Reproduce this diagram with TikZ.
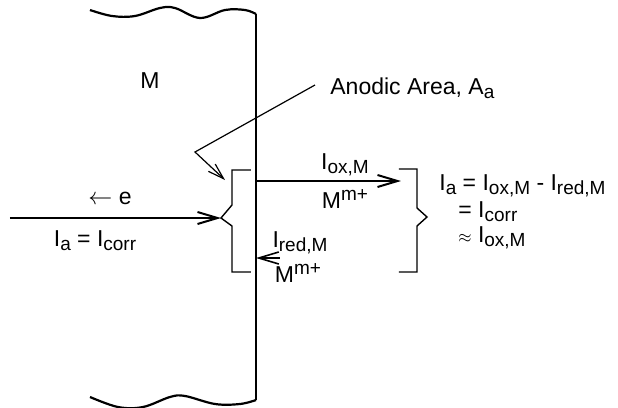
\documentclass[tikz,border=0pt]{standalone}
\usepackage{fontspec}
\setmainfont{Liberation Sans}
\usetikzlibrary{arrows.meta}
\tikzset{
  lbl/.style={inner sep=0pt, font=\fontsize{11.5}{13}\selectfont},
  barb/.style={-{Straight Barb[length=10pt,width=6pt]}},
  brk/.style={line width=0.7pt}
}
\newcommand{\sub}[1]{\raisebox{-0.3ex}{\fontsize{9.5}{10}\selectfont #1}}
\newcommand{\sups}[1]{\raisebox{0.6ex}{\fontsize{9.5}{10}\selectfont #1}}
\begin{document}
\begin{tikzpicture}[x=0.5pt,y=-0.5pt]
    \useasboundingbox (0,0) rectangle (618,408);

    % Metal M: surface line and broken ends
    \coordinate (mtop) at (256,14);
    \coordinate (mbot) at (256,400);
    \draw[line width=1pt] (mtop) -- (mbot);
    \draw[line width=1.1pt] plot[smooth, tension=0.6] coordinates
      {(90,10) (112,16) (135,16) (160,8) (175,8) (200,18) (225,10) (245,10) (256,14)};
    \draw[line width=1.1pt] plot[smooth, tension=0.6] coordinates
      {(90,397) (118,407) (143,407) (170,397) (185,396) (215,404) (240,404) (256,400)};
    \node[lbl] (metal) at (150,81) {M};

    % Anodic area bracket
    \draw[brk] (251,170) -- (232,170) -- (232,205) -- (221,218) coordinate (lcusp)
      -- (232,226) -- (232,272) -- (251,272);
    \node[lbl, anchor=west] (area) at (330,88) {Anodic Area, A\sub{a}};
    \coordinate (bend) at (195,152);
    \coordinate (lead) at (315,85);
    \draw[line width=0.6pt, -{Straight Barb[length=8pt,width=5pt]}] (lead) -- (bend) -- (225,180);

    % external current
    \coordinate (wire) at (10,218);
    \draw[line width=1pt, barb] (wire) -- (lcusp);
    \node[lbl] (elec) at (110,198) {$\leftarrow$ e};
    \node[lbl] (ia) at (95,241) {I\sub{a} = I\sub{corr}};

    % oxidation and reduction currents
    \coordinate (oxs) at (256,181);
    \coordinate (oxe) at (401,181);
    \draw[line width=1pt, barb] (oxs) -- (oxe);
    \node[lbl] (iox) at (345,165) {I\sub{ox,M}};
    \node[lbl] (ionox) at (345,199) {M\sups{m+}};
    \coordinate (reds) at (280,258);
    \coordinate (rede) at (256,258);
    \draw[line width=0.8pt, barb] (reds) -- (rede);
    \node[lbl] (ired) at (300,243) {I\sub{red,M}};
    \node[lbl] (ionred) at (298,273) {M\sups{m+}};

    % right bracket and balance
    \draw[brk] (399,169) -- (417,169) -- (417,208) -- (427,217) -- (417,226)
      -- (417,272) -- (399,272);
    \node[lbl, anchor=west] (bal1) at (439,186) {I\sub{a} = I\sub{ox,M} - I\sub{red,M}};
    \node[lbl, anchor=west] (bal2) at (458,212) {= I\sub{corr}};
    \node[lbl, anchor=west] (bal3) at (458,238) {{\fontsize{8}{9}\selectfont$\approx$} I\sub{ox,M}};
\end{tikzpicture}
\end{document}
